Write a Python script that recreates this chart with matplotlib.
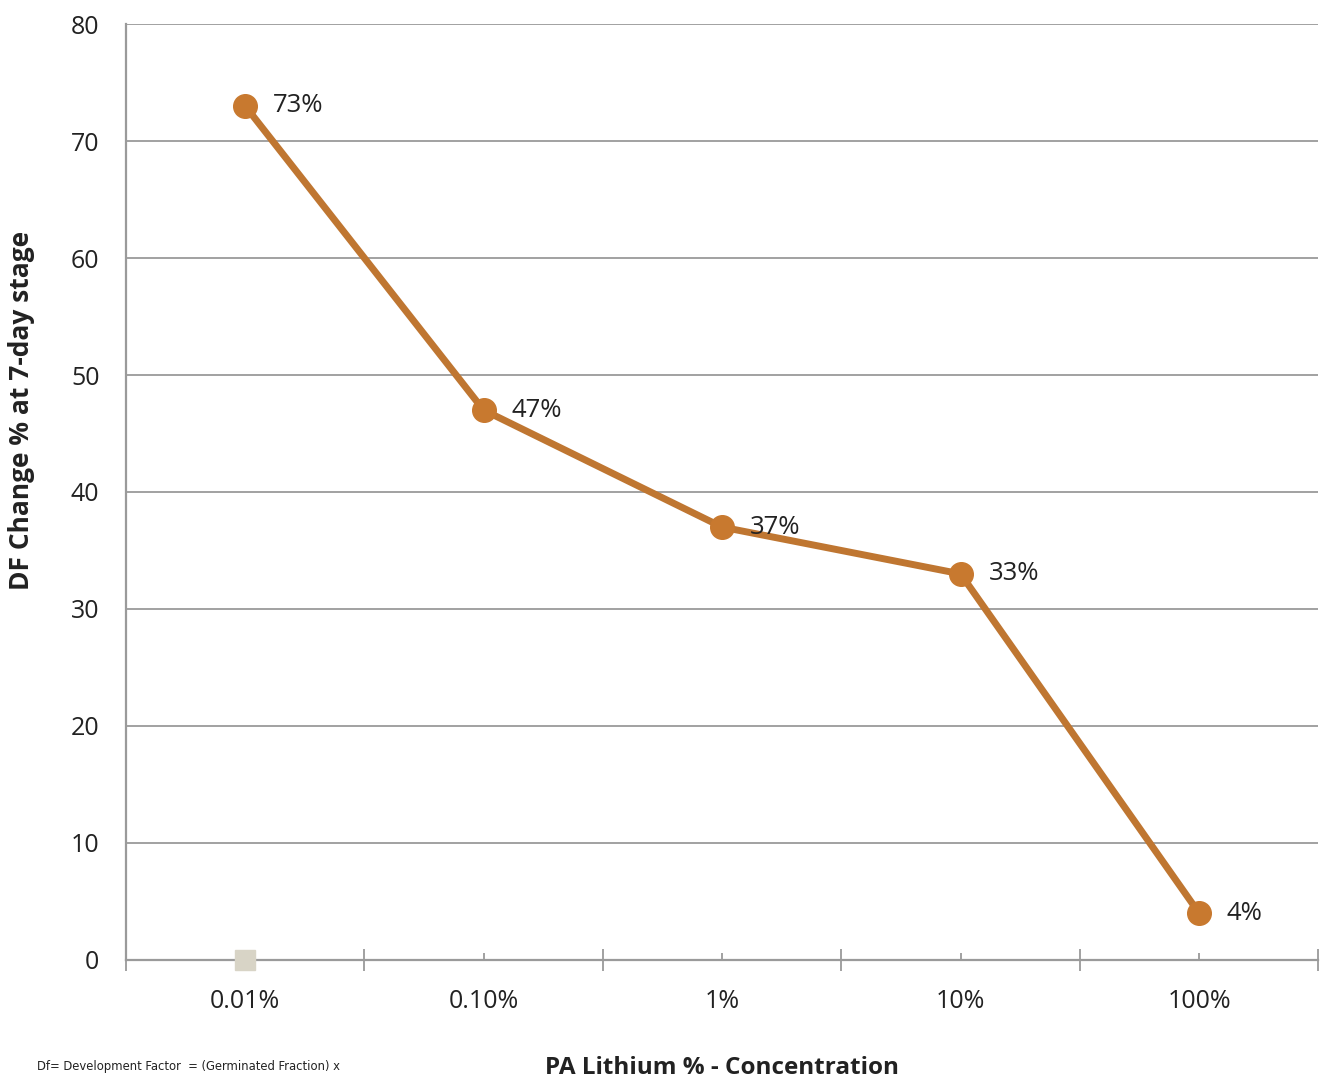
import matplotlib
matplotlib.use("Agg")
import matplotlib.pyplot as plt
from matplotlib.ticker import FixedLocator, NullFormatter

# data
concentrations = ["0.01%", "0.10%", "1%", "10%", "100%"]
df_change = [73, 47, 37, 33, 4]
point_labels = ["73%", "47%", "37%", "33%", "4%"]
# second (flat) series, only one grey square visible at the first category
baseline_x = [0]
baseline_y = [0]

y_ticks = list(range(0, 81, 10))

plt.rcParams["font.family"] = ["Open Sans", "DejaVu Sans"]

LINE_COLOR = "#BF7631"
MARKER_COLOR = "#C8792F"
GRID_COLOR = "#9A9A9A"
TEXT_COLOR = "#222222"

fig = plt.figure(figsize=(13.25, 10.78), dpi=100)
ax = fig.add_axes([0.095, 0.1095, 0.9, 0.8682])

x = list(range(len(concentrations)))

ax.plot(
	x,
	df_change,
	color=LINE_COLOR,
	linewidth=5,
	marker="o",
	markersize=17,
	markerfacecolor=MARKER_COLOR,
	markeredgecolor=MARKER_COLOR,
	zorder=4,
)

ax.plot(
	baseline_x,
	baseline_y,
	linestyle="none",
	marker="s",
	markersize=15,
	markerfacecolor="#D8D4C6",
	markeredgecolor="#D8D4C6",
	zorder=5,
	clip_on=False,
)

for xi, yi, label in zip(x, df_change, point_labels):
	ax.annotate(
		label,
		(xi, yi),
		xytext=(20, 0),
		textcoords="offset points",
		va="center",
		ha="left",
		fontsize=18.5,
		color=TEXT_COLOR,
		zorder=6,
	)

ax.set_xlim(-0.5, 4.5)
ax.set_ylim(0, 80)

# horizontal gridlines only
ax.set_yticks(y_ticks)
ax.yaxis.grid(True, color=GRID_COLOR, linewidth=1.3)
ax.set_axisbelow(True)
ax.tick_params(axis="y", length=0, labelsize=18, colors=TEXT_COLOR, pad=19)

# category boundaries as crossing ticks, small ticks at category centres
ax.xaxis.set_major_locator(FixedLocator([i - 0.5 for i in range(len(concentrations) + 1)]))
ax.xaxis.set_major_formatter(NullFormatter())
ax.xaxis.set_minor_locator(FixedLocator(x))
ax.set_xticklabels(concentrations, minor=True)
ax.tick_params(axis="x", which="major", direction="inout", length=16, width=1.3, color=GRID_COLOR)
ax.tick_params(axis="x", which="minor", direction="in", length=5, width=1.3, color=GRID_COLOR,
			   labelsize=18, labelcolor=TEXT_COLOR, pad=21)

for side in ["top", "right"]:
	ax.spines[side].set_visible(False)
for side in ["left", "bottom"]:
	ax.spines[side].set_color(GRID_COLOR)
	ax.spines[side].set_linewidth(1.6)

ax.set_ylabel("DF Change % at 7-day stage", fontsize=19, fontweight="bold", color=TEXT_COLOR)
# the reference places the y label above the axis centre
ax.yaxis.set_label_coords(-0.076, 0.587)
ax.set_xlabel("PA Lithium % - Concentration", fontsize=17.5, fontweight="bold", color=TEXT_COLOR, labelpad=30)

fig.text(
	0.028,
	0.005,
	"Df= Development Factor  = (Germinated Fraction) x",
	family="DejaVu Sans",
	fontstretch="condensed",
	fontsize=9.3,
	color=TEXT_COLOR,
	ha="left",
	va="bottom",
)

fig.savefig("out.png", dpi=100)
